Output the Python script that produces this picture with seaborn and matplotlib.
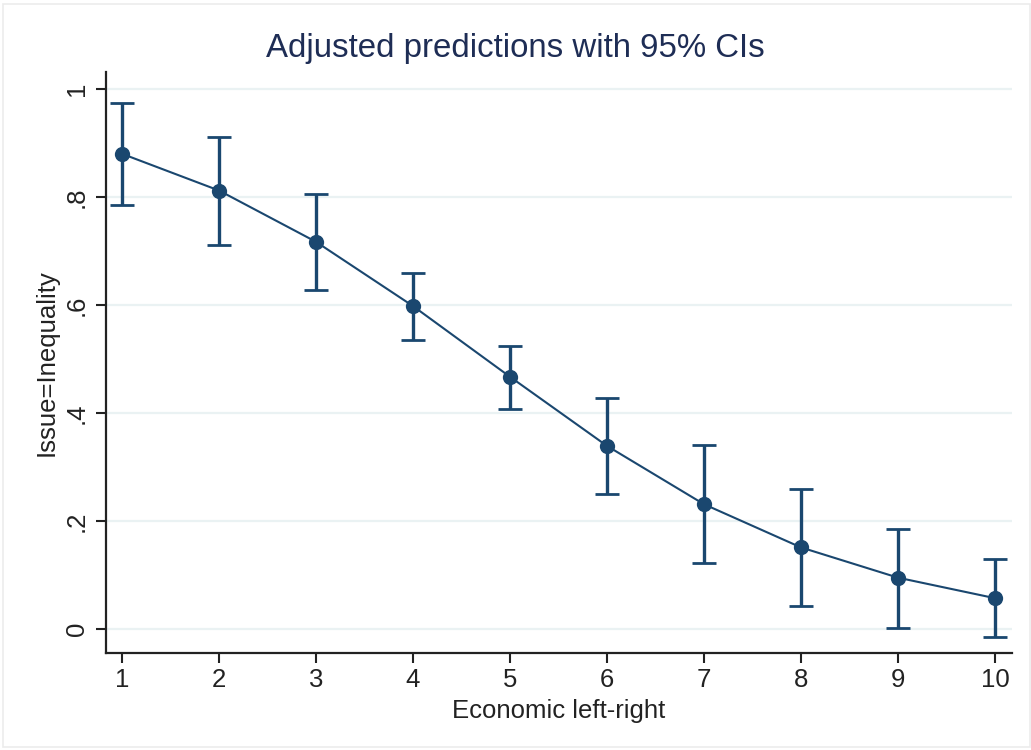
import matplotlib
matplotlib.use("Agg")
import matplotlib.pyplot as plt
import seaborn as sns
import pandas as pd
from matplotlib.patches import Rectangle

# Predicted probability of naming inequality as the issue, by economic left-right position
econ_lr = [1, 2, 3, 4, 5, 6, 7, 8, 9, 10]
margin = [0.880, 0.812, 0.717, 0.598, 0.467, 0.339, 0.231, 0.151, 0.095, 0.057]
ci_low = [0.785, 0.711, 0.628, 0.535, 0.407, 0.250, 0.123, 0.043, 0.002, -0.014]
ci_high = [0.975, 0.912, 0.806, 0.659, 0.524, 0.428, 0.341, 0.259, 0.186, 0.129]

y_ticks = [0, 0.2, 0.4, 0.6, 0.8, 1.0]
y_ticklabels = ["0", ".2", ".4", ".6", ".8", "1"]

title = "Adjusted predictions with 95% CIs"
x_label = "Economic left-right"
y_label = "Issue=Inequality"

navy = "#1a476f"
title_col = "#1e2d55"
grid_col = "#eaf2f3"
ink = "#222222"

sns.set_theme(style="white")
plt.rcParams["font.family"] = ["Liberation Sans", "DejaVu Sans"]

df = pd.DataFrame({"x": econ_lr, "y": margin, "lo": ci_low, "hi": ci_high})

fig = plt.figure(figsize=(10.31, 7.5), dpi=100)
fig.patch.set_facecolor("white")
fig.add_artist(Rectangle((3 / 1031, 3 / 750), 1 - 4 / 1031, 1 - 7 / 750,
                         transform=fig.transFigure, fill=False,
                         edgecolor="#ececec", linewidth=1.2))

ax = fig.add_axes([106 / 1031, 1 - 653 / 750, (1012 - 106) / 1031, (653 - 72) / 750])

# horizontal grid
for t in y_ticks:
    ax.axhline(t, color=grid_col, linewidth=1.6, zorder=0)

# confidence intervals
ax.errorbar(df["x"], df["y"],
            yerr=[df["y"] - df["lo"], df["hi"] - df["y"]],
            fmt="none", ecolor=navy, elinewidth=2.4, capsize=8.5,
            capthick=2.0, zorder=2)

# point estimates joined by a line
sns.lineplot(data=df, x="x", y="y", ax=ax, color=navy, linewidth=1.5,
             marker="o", markersize=11, markeredgewidth=0,
             markerfacecolor=navy, zorder=3)

ax.set_xlim(0.835, 10.175)
ax.set_ylim(-0.0445, 1.0315)
ax.set_xticks(econ_lr)
ax.set_xticklabels([str(v) for v in econ_lr])
ax.set_yticks(y_ticks)
ax.set_yticklabels(y_ticklabels, rotation=90, va="center")

for side in ["top", "right"]:
    ax.spines[side].set_visible(False)
for side in ["left", "bottom"]:
    ax.spines[side].set_color(ink)
    ax.spines[side].set_linewidth(1.6)

ax.tick_params(axis="both", which="major", direction="out", length=7.5,
               width=1.5, color=ink, labelcolor=ink, labelsize=18.5,
               left=True, bottom=True)
ax.tick_params(axis="y", pad=5)
ax.tick_params(axis="x", pad=3)

ax.set_xlabel(x_label, fontsize=18.5, color=ink, labelpad=5)
ax.set_ylabel(y_label, fontsize=18.5, color=ink, labelpad=4)

fig.text(0.5, 1 - 48 / 750, title, ha="center", va="center",
         fontsize=23.8, color=title_col)

fig.savefig("out.png", dpi=100, facecolor="white")
